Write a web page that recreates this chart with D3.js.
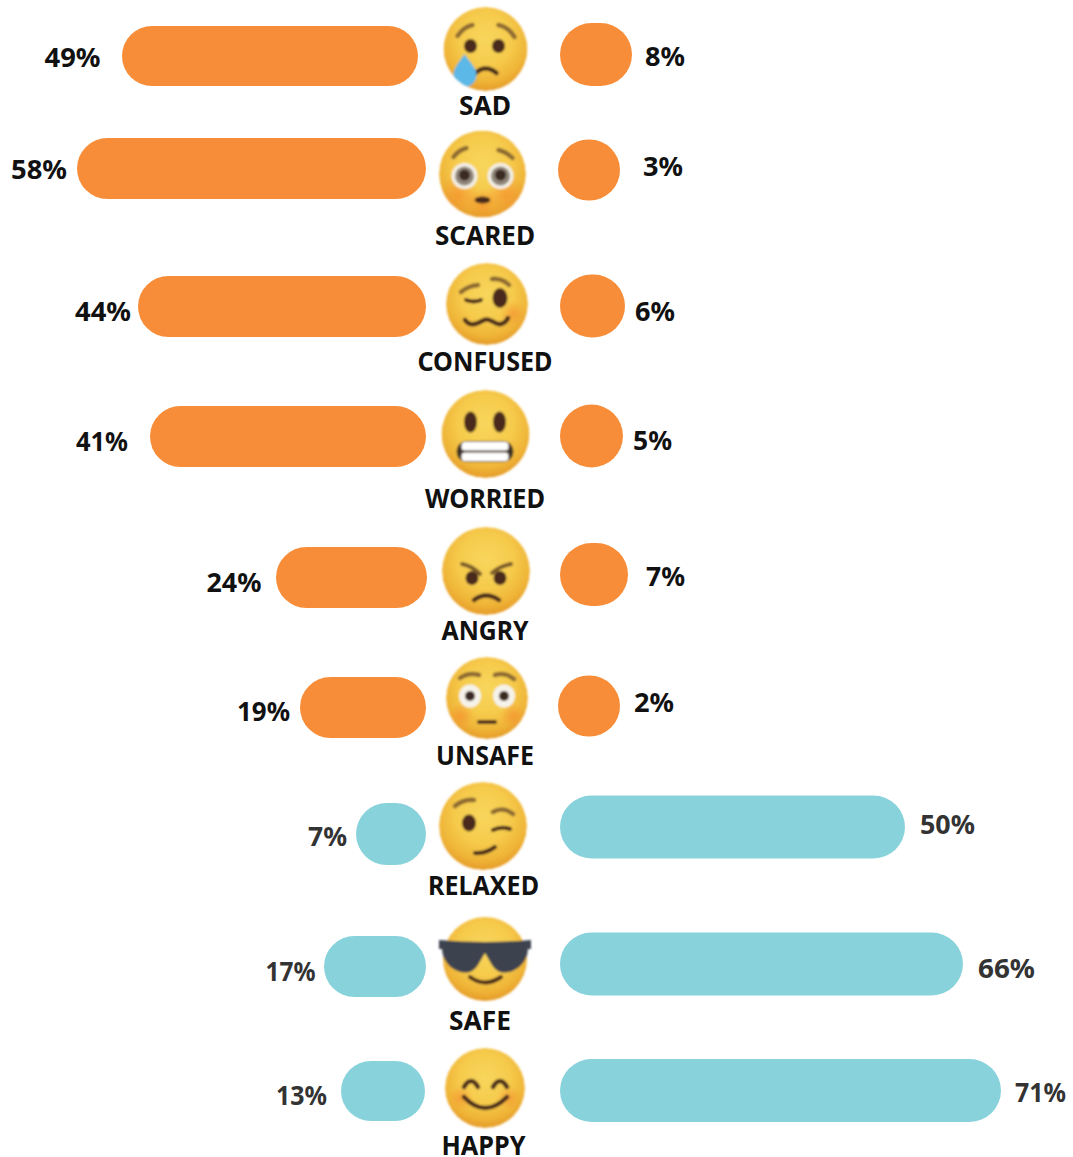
<!DOCTYPE html>
<html><head><meta charset="utf-8">
<script src="https://cdn.jsdelivr.net/npm/d3@7/dist/d3.min.js"></script>
<style>html,body{margin:0;padding:0;background:#fff}svg{display:block}text{font-family:"Noto Sans",sans-serif;font-weight:700}</style>
</head><body><div id="c"></div>
<script>
const categories=["SAD","SCARED","CONFUSED","WORRIED","ANGRY","UNSAFE","RELAXED","SAFE","HAPPY"];
const leftValues=[49,58,44,41,24,19,7,17,13];
const rightValues=[8,3,6,5,7,2,50,66,71];
const leftKinds=["neg","neg","neg","neg","neg","neg","pos","pos","pos"];

// layout
const W=1073,H=1157;
const colour={neg:"#F78D38",pos:"#88D2DC"};
const textColour={neg:"#111111",pos:"#333333"};
// The source graphic is hand-placed: bars follow these value-to-length knots
const leftLen=d3.scaleLinear().domain([7,13,17,19,24,41,44,49,58]).range([70,84,102,126,151,276,288,296,349]);
const rightLen=d3.scaleLinear().domain([2,3,5,6,7,8,50,66,71]).range([62,62,63,65,68,72,345,403,441]);
const leftEdge=d3.scaleOrdinal(categories,[418,426,426,426,427,426,426,426,425]);
const rightEdge=d3.scaleOrdinal(categories,[560,558,560,560,560,558,560,560,560]);
const leftY=d3.scaleOrdinal(categories,[56,168.5,306.5,436.5,577.5,707.5,834,966.5,1091]);
const rightY=d3.scaleOrdinal(categories,[54.5,170,306,436,574.5,706,827,964,1090.5]);
const leftH=d3.scaleOrdinal(categories,[60,61,61,61,61,61,62,61,60]);
const rightH=d3.scaleOrdinal(categories,[63,61,63,63,63,61,63,63,63]);
const leftLabelX=d3.scaleOrdinal(categories,[100.5,67,131,128,261.5,290,347,315.5,327]);
const leftLabelY=d3.scaleOrdinal(categories,[67,179,320.5,451,592,721,845.5,981,1105]);
const leftLabelW=d3.scaleOrdinal(categories,[56,56,56,52,55,53,39,50,51]);
const rightLabelX=d3.scaleOrdinal(categories,[645,643,635,633,646,634,920,978,1015]);
const rightLabelY=d3.scaleOrdinal(categories,[66,175.5,321,450,586,711.5,834,978,1102]);
const rightLabelW=d3.scaleOrdinal(categories,[40,40,40,39,39,40,55,57,51]);
const nameX=d3.scaleOrdinal(categories,[485,485,485,485,485,485,483.5,480,483.5]);
const nameY=d3.scaleOrdinal(categories,[115,245,371,508,640,765,895,1030,1155]);
const nameW=d3.scaleOrdinal(categories,[52,100,135,120,87,98,111,62,84]);
const face=d3.scaleOrdinal(categories,[[485.5,49,42],[482.5,174,43.5],[487,304,41],[485.5,434,44],[486,571,44],[487,698,41],[483,826,44],[485,959,42],[485,1088,40]]);

const svg=d3.select("#c").append("svg").attr("width",W).attr("height",H).attr("viewBox",`0 0 ${W} ${H}`);
const defs=svg.append("defs");
const g=defs.append("radialGradient").attr("id","skin").attr("cx","50%").attr("cy","38%").attr("r","62%");
[[0,"#F8D65C"],[.5,"#F6CB4C"],[.82,"#EFB437"],[1,"#E59B28"]].forEach(s=>g.append("stop").attr("offset",s[0]).attr("stop-color",s[1]));
const bl=defs.append("radialGradient").attr("id","blush");
[[0,"#F78B2D",.6],[1,"#F78B2D",0]].forEach(s=>bl.append("stop").attr("offset",s[0]).attr("stop-color",s[1]).attr("stop-opacity",s[2]));
defs.append("filter").attr("id","soft").attr("x","-10%").attr("y","-10%").attr("width","120%").attr("height","120%").append("feGaussianBlur").attr("stdDeviation",.9);

const rows=categories.map((name,i)=>({name,l:leftValues[i],r:rightValues[i],kind:leftKinds[i]}));
const bars=svg.append("g");
bars.selectAll(".left").data(rows).join("rect").attr("class","left")
  .attr("x",d=>leftEdge(d.name)-leftLen(d.l)).attr("y",d=>leftY(d.name)-leftH(d.name)/2)
  .attr("width",d=>leftLen(d.l)).attr("height",d=>leftH(d.name))
  .attr("rx",d=>Math.min(leftH(d.name),leftLen(d.l))/2).attr("ry",d=>leftH(d.name)/2)
  .attr("fill",d=>colour[d.kind]);
bars.selectAll(".right").data(rows).join("rect").attr("class","right")
  .attr("x",d=>rightEdge(d.name)).attr("y",d=>rightY(d.name)-rightH(d.name)/2)
  .attr("width",d=>rightLen(d.r)).attr("height",d=>rightH(d.name))
  .attr("rx",d=>Math.min(rightH(d.name),rightLen(d.r))/2).attr("ry",d=>rightH(d.name)/2)
  .attr("fill",d=>colour[d.kind]);

const tx=svg.append("g").attr("font-size",27);
tx.selectAll(".lv").data(rows).join("text").attr("class","lv").attr("text-anchor","end")
  .attr("x",d=>leftLabelX(d.name)).attr("y",d=>leftLabelY(d.name)).attr("fill",d=>textColour[d.kind])
  .attr("textLength",d=>leftLabelW(d.name)).attr("lengthAdjust","spacingAndGlyphs").text(d=>d.l+"%");
tx.selectAll(".rv").data(rows).join("text").attr("class","rv").attr("text-anchor","start")
  .attr("x",d=>rightLabelX(d.name)).attr("y",d=>rightLabelY(d.name)).attr("fill",d=>textColour[d.kind])
  .attr("textLength",d=>rightLabelW(d.name)).attr("lengthAdjust","spacingAndGlyphs").text(d=>d.r+"%");
tx.selectAll(".nm").data(rows).join("text").attr("class","nm").attr("text-anchor","middle")
  .attr("x",d=>nameX(d.name)).attr("y",d=>nameY(d.name)).attr("fill","#111")
  .attr("textLength",d=>nameW(d.name)).attr("lengthAdjust","spacingAndGlyphs").text(d=>d.name);

// emoji features (coordinates relative to face centre, px)
const INK="#4A2A1C",BROW="#8E6A30";
function stroke(s,d,w,c){s.append("path").attr("d",d).attr("fill","none").attr("stroke",c||BROW).attr("stroke-width",w||4.5).attr("stroke-linecap","round")}
function ell(s,x,y,rx,ry,c){s.append("ellipse").attr("cx",x).attr("cy",y).attr("rx",rx).attr("ry",ry).attr("fill",c||INK)}
function blush(s,x,y,r){s.append("circle").attr("cx",x).attr("cy",y).attr("r",r).attr("fill","url(#blush)")}
const features={
 SAD(s){stroke(s,"M-28,-13Q-22,-22 -13,-24");stroke(s,"M13,-24Q23,-22 29,-12");ell(s,-15,-3,6.5,7);ell(s,13,-3,6.5,7);
  stroke(s,"M-10,24Q0,15 11,24",4.5,INK);
  s.append("path").attr("d","M-21,5C-17,12 -9,18 -9,26A11.5,11.5 0 0 1 -32,26C-32,18 -25,12 -21,5Z").attr("fill","#5CB8E6")},
 SCARED(s){blush(s,-24,21,20);blush(s,24,21,20);blush(s,0,30,16);stroke(s,"M-29,-17Q-24,-24 -16,-26");stroke(s,"M16,-24Q24,-22 30,-16");
  [-18,18].forEach(x=>{ell(s,x,2,13,13,"#F4F0E6");ell(s,x,2,9.5,9.5,"#8F8578");ell(s,x,1,5.5,5.5,"#3A2A22")});
  ell(s,0,26,8,3.5)},
 CONFUSED(s){blush(s,26,10,13);stroke(s,"M-26,-12Q-19,-18 -9,-19");stroke(s,"M5,-25Q15,-26 22,-19");stroke(s,"M-21,-4Q-13,-1 -6,-4",4,INK);ell(s,13,-6,7.5,10);
  stroke(s,"M-22,16C-16,24 -9,19 -3,16C4,13 8,22 14,20C18,19 20,16 21,14",4.5,INK)},
 WORRIED(s){ell(s,-15,-12,6.5,10.5);ell(s,14,-12,6.5,10.5);
  s.append("rect").attr("x",-29).attr("y",7).attr("width",57).attr("height",21).attr("rx",10.5).attr("fill","#3E3028");
  s.append("rect").attr("x",-24).attr("y",8).attr("width",47).attr("height",8.5).attr("rx",3.5).attr("fill","#fff");
  s.append("rect").attr("x",-24).attr("y",18.5).attr("width",47).attr("height",8.5).attr("rx",3.5).attr("fill","#fff")},
 ANGRY(s){ell(s,-14,7,6.5,7);ell(s,14,7,6.5,7);stroke(s,"M-24,-7Q-14,-5 -6,3",4,"#7A5A2C");stroke(s,"M6,2Q14,-5 25,-7",4,"#7A5A2C");
  stroke(s,"M-12,29Q0,20 13,29",4.5,INK)},
 UNSAFE(s){blush(s,-26,18,13);blush(s,26,18,13);stroke(s,"M-27,-20Q-18,-26 -8,-23");stroke(s,"M8,-23Q18,-26 27,-19");
  [-17,17].forEach(x=>{ell(s,x,-2,11,11.5,"#F6F3EA");ell(s,x,-2,5,5,"#3A2A22")});
  stroke(s,"M-8,24L8,24",4,INK)},
 RELAXED(s){stroke(s,"M-28,-20Q-20,-27 -9,-26");stroke(s,"M10,-14Q20,-20 30,-12");ell(s,-14,-3,7,8.5);
  stroke(s,"M10,4Q18,0 27,3",4,INK);
  stroke(s,"M-8,27Q2,28 12,21",4,INK)},
 SAFE(s){s.append("path").attr("fill","#3C4350").attr("d","M-46,-19Q0,-15 46,-19L46,-10L43,-10C42,8 25,16 15,13C8,11 4,0 0,-6C-4,0 -8,11 -15,13C-25,16 -42,8 -43,-10L-46,-10Z");
  stroke(s,"M-15,18Q0,29 16,18",4,INK)},
 HAPPY(s){blush(s,-24,10,12);blush(s,24,10,12);stroke(s,"M-21,-1Q-14,-13 -7,-1",4.5,INK);stroke(s,"M8,-1Q15,-13 22,-1",4.5,INK);
  stroke(s,"M-21,9Q0,31 22,9",4.5,INK)}
};
rows.forEach((d,i)=>{
  const [cx,cy,r]=face(d.name);
  defs.append("clipPath").attr("id","head"+i).append("circle").attr("r",r+(d.name==="SAFE"?30:0));
  const e=svg.append("g").attr("transform",`translate(${cx},${cy})`).attr("filter","url(#soft)");
  const inner=e.append("g").attr("clip-path",`url(#head${i})`);
  inner.append("circle").attr("r",r).attr("fill","url(#skin)");
  features[d.name](inner);
});
</script></body></html>
